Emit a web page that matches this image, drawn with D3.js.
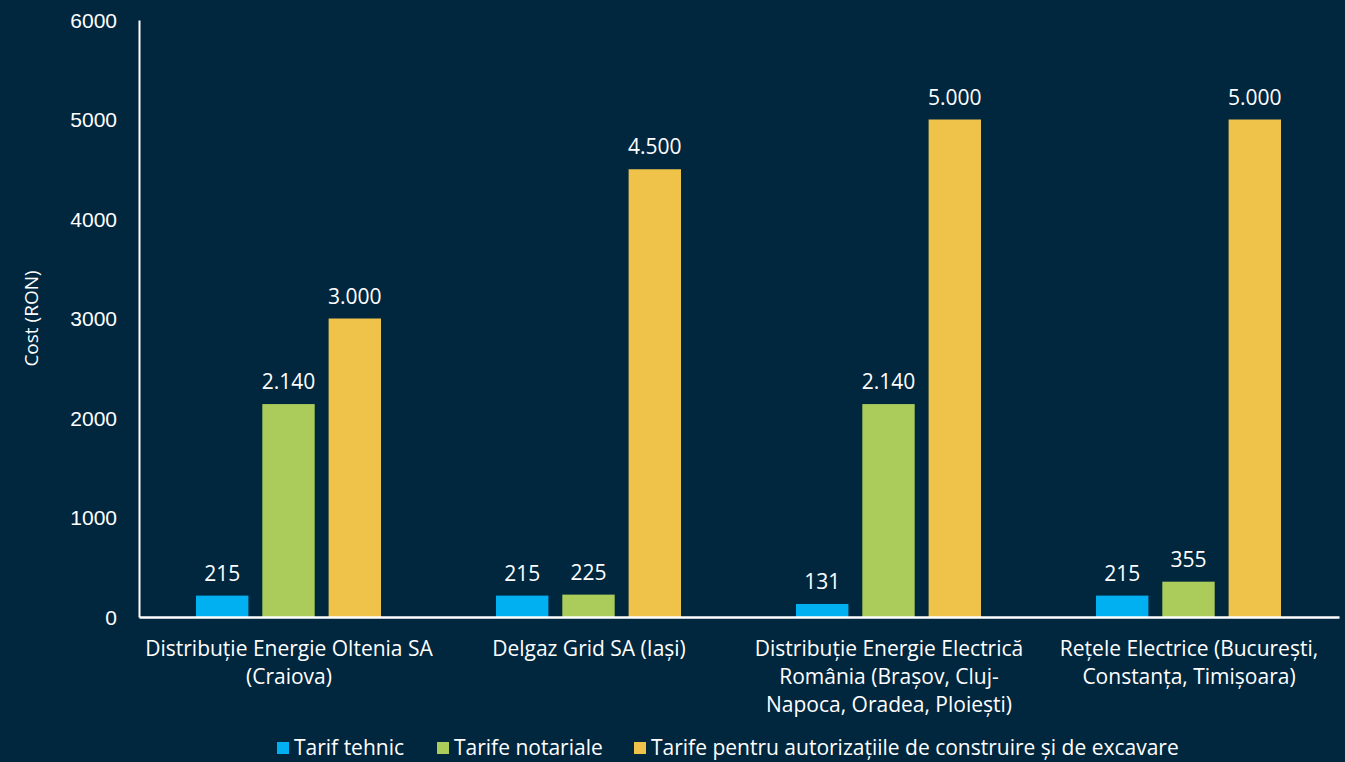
<!DOCTYPE html>
<html>
<head>
<meta charset="utf-8">
<script src="https://cdn.jsdelivr.net/npm/d3@7.9.0/dist/d3.min.js"></script>
<style>
  html, body { margin: 0; padding: 0; background: #01273f; }
  svg { display: block; font-family: "Open Sans", "Noto Sans", sans-serif; }
</style>
</head>
<body>
<div id="chart"></div>
<script>
const categories = [
  ['Distribuție Energie Oltenia SA', '(Craiova)'],
  ['Delgaz Grid SA (Iași)'],
  ['Distribuție Energie Electrică', 'România (Brașov, Cluj-', 'Napoca, Oradea, Ploiești)'],
  ['Rețele Electrice (București,', 'Constanța, Timișoara)']
];
const seriesNames = ['Tarif tehnic', 'Tarife notariale', 'Tarife pentru autorizațiile de construire și de excavare'];
const tarifTehnic = [215, 215, 131, 215];
const tarifeNotariale = [2140, 225, 2140, 355];
const tarifeAutorizatii = [3000, 4500, 5000, 5000];
const yTicks = [0, 1000, 2000, 3000, 4000, 5000, 6000];

const width = 1345;
const height = 762;
const colors = ['#00b0f0', '#abcc5a', '#efc24a'];
const series = [tarifTehnic, tarifeNotariale, tarifeAutorizatii];

const margin = { top: 20, right: 6, bottom: 145, left: 139 };

const svg = d3.select('#chart')
  .append('svg')
  .attr('width', width)
  .attr('height', height);

const x0 = d3.scaleBand()
  .domain(d3.range(categories.length))
  .range([margin.left, width - margin.right]);

const x1 = d3.scaleBand()
  .domain(d3.range(series.length))
  .range([57, 242])
  .paddingInner(0.21);

const y = d3.scaleLinear()
  .domain([0, 6000])
  .range([height - margin.bottom, margin.top]);

// bars
const groups = svg.append('g')
  .selectAll('g')
  .data(categories.map((c, i) => i))
  .join('g')
  .attr('transform', (i) => `translate(${x0(i)},0)`);

const fmt = (v) => v >= 1000 ? d3.format(',')(v).replace(/,/g, '.') : String(v);

groups.selectAll('rect')
  .data((i) => series.map((s, k) => ({ k, v: s[i] })))
  .join('rect')
  .attr('x', (d) => x1(d.k))
  .attr('width', x1.bandwidth())
  .attr('y', (d) => y(d.v))
  .attr('height', (d) => y(0) - y(d.v))
  .attr('fill', (d) => colors[d.k]);

groups.selectAll('text.val')
  .data((i) => series.map((s, k) => ({ k, v: s[i] })))
  .join('text')
  .attr('class', 'val')
  .attr('x', (d) => x1(d.k) + x1.bandwidth() / 2)
  .attr('y', (d) => y(d.v) - 15)
  .attr('text-anchor', 'middle')
  .attr('fill', '#ffffff')
  .style('font-size', '21px')
  .text((d) => fmt(d.v));

// y axis
const yAxis = svg.append('g')
  .attr('transform', `translate(${margin.left},0)`)
  .call(d3.axisLeft(y).tickValues(yTicks).tickSize(0).tickPadding(22).tickFormat(d3.format('d')));
yAxis.select('.domain').attr('stroke', '#ffffff').attr('stroke-width', 2);
yAxis.selectAll('text').attr('fill', '#ffffff').style('font-size', '21px').attr('dy', '0.35em');

// x axis
const xAxis = svg.append('g')
  .attr('transform', `translate(0,${y(0)})`)
  .call(d3.axisBottom(x0).tickSize(0).tickFormat(''));
xAxis.select('.domain').attr('stroke', '#ffffff').attr('stroke-width', 2.5);

const labels = svg.append('g')
  .selectAll('text')
  .data(categories)
  .join('text')
  .attr('x', (d, i) => x0(i) + x0.bandwidth() / 2)
  .attr('y', y(0) + 39)
  .attr('text-anchor', 'middle')
  .attr('fill', '#ffffff')
  .style('font-size', '21px');
labels.selectAll('tspan')
  .data((d) => d)
  .join('tspan')
  .attr('x', function () { return d3.select(this.parentNode).attr('x'); })
  .attr('dy', (d, j) => j === 0 ? 0 : 28)
  .text((d) => d);

// y title
svg.append('text')
  .attr('transform', `translate(38,${(y(0) + y(6000)) / 2}) rotate(-90)`)
  .attr('text-anchor', 'middle')
  .attr('fill', '#ffffff')
  .style('font-size', '19px')
  .text('Cost (RON)');

// legend
const legendX = [277, 437, 634];
const legend = svg.append('g')
  .selectAll('g')
  .data(seriesNames)
  .join('g')
  .attr('transform', (d, i) => `translate(${legendX[i]},742)`);
legend.append('rect')
  .attr('width', 12).attr('height', 12)
  .attr('fill', (d, i) => colors[i]);
legend.append('text')
  .attr('x', 17).attr('y', 6).attr('dy', '0.35em')
  .attr('fill', '#ffffff')
  .style('font-size', '21px')
  .text((d) => d);
</script>
</body>
</html>
